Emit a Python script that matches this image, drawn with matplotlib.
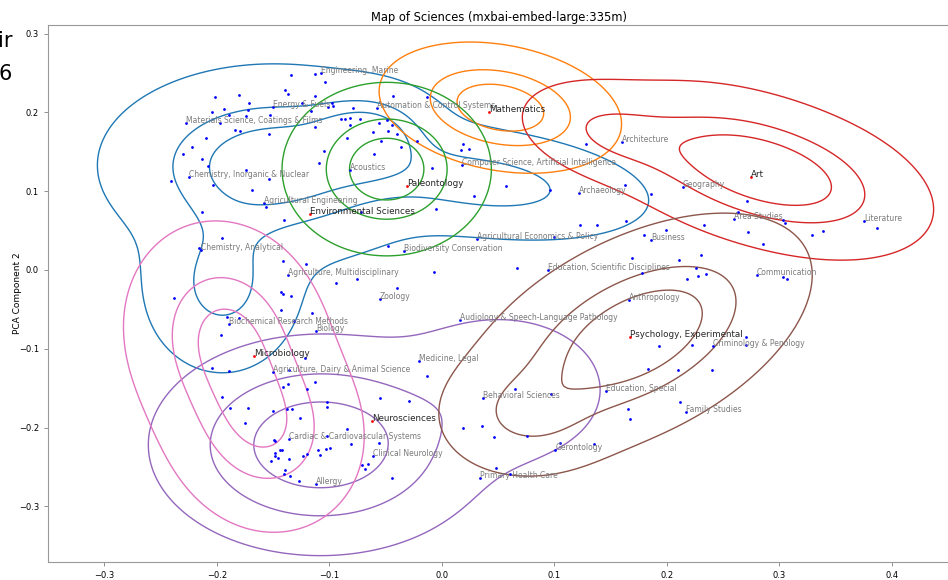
import numpy as np
import matplotlib
matplotlib.use('Agg')
import matplotlib.pyplot as plt

# labelled categories (grey text, blue dot)
lab_names = ['Engineering, Marine', 'Energy & Fuels', 'Materials Science, Coatings & Films',
             'Chemistry, Inorganic & Nuclear', 'Automation & Control Systems',
             'Computer Science, Artificial Intelligence', 'Acoustics', 'Archaeology',
             'Architecture', 'Geography', 'Agricultural Engineering',
             'Chemistry, Analytical', 'Agriculture, Multidisciplinary', 'Biodiversity Conservation',
             'Agricultural Economics & Policy', 'Education, Scientific Disciplines', 'Zoology',
             'Audiology & Speech-Language Pathology', 'Biochemical Research Methods', 'Biology',
             'Agriculture, Dairy & Animal Science', 'Medicine, Legal', 'Area Studies',
             'Business', 'Literature', 'Communication', 'Anthropology',
             'Criminology & Penology', 'Cardiac & Cardiovascular Systems',
             'Clinical Neurology', 'Allergy', 'Behavioral Sciences', 'Education, Special',
             'Gerontology', 'Primary Health Care', 'Family Studies']
lab_x = [-0.107, -0.150, -0.227, -0.225, -0.058, 0.018, -0.082, 0.122,
         0.160, 0.214, -0.158, -0.214, -0.137, -0.034, 0.031, 0.094,
         -0.055, 0.016, -0.189, -0.112, -0.150, -0.020, 0.260, 0.186, 0.375,
         0.280, 0.166, 0.241, -0.136, -0.061, -0.112, 0.037, 0.146,
         0.101, 0.034, 0.217]
lab_y = [0.250, 0.207, 0.186, 0.118, 0.205, 0.133, 0.127, 0.098,
         0.163, 0.105, 0.085, 0.025, -0.007, 0.024, 0.039, -0.000,
         -0.037, -0.063, -0.068, -0.077, -0.129, -0.115, 0.065, 0.038, 0.062,
         -0.007, -0.038, -0.096, -0.215, -0.236, -0.272, -0.162, -0.154,
         -0.228, -0.264, -0.180]

# representative category of each field (black text, red dot)
rep_names = ['Environmental Sciences', 'Mathematics', 'Paleontology', 'Art',
             'Neurosciences', 'Psychology, Experimental', 'Microbiology']
rep_x = [-0.117, 0.042, -0.031, 0.275, -0.062, 0.167, -0.167]
rep_y = [0.071, 0.200, 0.107, 0.118, -0.192, -0.085, -0.109]
rep_colors = ['#1f77b4', '#ff7f0e', '#2ca02c', '#d62728', '#9467bd', '#8c564b', '#e377c2']

# unlabelled categories
pt_x = [-0.134, -0.113, -0.104, -0.202, -0.180, -0.139, -0.137, -0.113, -0.171, -0.172,
        -0.204, -0.194, -0.189, -0.174, -0.153, -0.116, -0.197, -0.184, -0.179, -0.154,
        -0.113, -0.210, -0.222, -0.230, -0.213, -0.208, -0.109, -0.174, -0.154, -0.241,
        -0.203, -0.169, -0.124, -0.101, -0.098, -0.097, -0.079, -0.043, -0.013, -0.090,
        -0.086, -0.082, -0.073, -0.082, -0.056, -0.049, -0.044, -0.061, -0.048, -0.040,
        -0.084, -0.054, -0.036, -0.022, -0.105, -0.060, -0.009, 0.019, 0.017, 0.024,
        0.128, 0.057, 0.096, 0.029, 0.163, 0.186, -0.156, -0.213, -0.140, -0.195,
        -0.216, -0.141, -0.121, -0.238, -0.143, -0.141, -0.134, -0.143, -0.115, -0.191,
        -0.180, -0.131, -0.196, -0.122, -0.204, -0.189, -0.136, -0.005, -0.072, 0.123,
        0.138, 0.100, -0.048, 0.067, -0.007, -0.094, -0.075, -0.040, -0.013, 0.271,
        0.263, 0.303, 0.305, 0.233, 0.164, 0.199, 0.180, 0.272, 0.285, 0.329,
        0.339, 0.387, 0.169, 0.211, 0.230, 0.226, 0.178, 0.235, 0.228, 0.218,
        0.303, 0.307, 0.270, 0.193, 0.222, 0.270, 0.183, 0.210, 0.240, -0.141,
        -0.137, -0.113, -0.120, -0.195, -0.188, -0.172, -0.150, -0.138, -0.133, -0.175,
        -0.126, -0.149, -0.148, -0.110, -0.148, -0.144, -0.142, -0.120, -0.123, -0.152,
        -0.148, -0.146, -0.136, -0.139, -0.140, -0.135, -0.127, -0.102, -0.102, -0.055,
        -0.029, -0.084, -0.102, -0.081, -0.056, -0.099, -0.103, -0.108, -0.071, -0.066,
        -0.068, -0.044, 0.065, 0.097, 0.019, 0.036, 0.046, 0.076, 0.105, 0.135,
        0.048, 0.061, 0.212, 0.165, 0.167]
pt_y = [0.247, 0.249, 0.238, 0.220, 0.222, 0.228, 0.223, 0.221, 0.212, 0.203,
        0.201, 0.204, 0.197, 0.195, 0.197, 0.202, 0.187, 0.178, 0.176, 0.173,
        0.181, 0.167, 0.156, 0.147, 0.141, 0.132, 0.136, 0.127, 0.116, 0.113,
        0.108, 0.102, 0.212, 0.207, 0.212, 0.208, 0.205, 0.221, 0.220, 0.191,
        0.192, 0.193, 0.191, 0.184, 0.186, 0.190, 0.184, 0.175, 0.177, 0.173,
        0.167, 0.164, 0.156, 0.164, 0.151, 0.147, 0.130, 0.160, 0.152, 0.153,
        0.160, 0.107, 0.102, 0.094, 0.108, 0.096, 0.080, 0.073, 0.064, 0.041,
        0.028, 0.012, 0.007, -0.036, -0.028, -0.030, -0.033, -0.051, -0.054, -0.060,
        -0.061, -0.065, -0.082, -0.112, -0.125, -0.128, -0.127, 0.077, 0.074, 0.057,
        0.057, 0.042, 0.030, 0.003, -0.002, -0.017, -0.012, -0.023, -0.135, 0.087,
        0.074, 0.063, 0.060, 0.057, 0.062, 0.051, 0.045, 0.048, 0.033, 0.045,
        0.050, 0.053, 0.015, 0.013, 0.019, 0.003, -0.004, -0.005, -0.008, -0.011,
        -0.009, -0.011, -0.085, -0.097, -0.095, -0.095, -0.126, -0.127, -0.127, -0.148,
        -0.145, -0.142, -0.151, -0.161, -0.175, -0.175, -0.179, -0.177, -0.177, -0.194,
        -0.188, -0.216, -0.217, -0.229, -0.232, -0.229, -0.228, -0.234, -0.236, -0.242,
        -0.236, -0.239, -0.240, -0.254, -0.259, -0.261, -0.268, -0.168, -0.174, -0.163,
        -0.166, -0.202, -0.211, -0.221, -0.220, -0.226, -0.227, -0.235, -0.247, -0.246,
        -0.253, -0.264, -0.151, -0.157, -0.201, -0.198, -0.212, -0.211, -0.219, -0.221,
        -0.251, -0.259, -0.167, -0.177, -0.189]

# density of each field's documents, read off the contours as gaussian parts:
# centre x, centre y, sd x, sd y, correlation, weight
env_parts = [(-0.150, 0.133, 0.068, 0.056, 0.0, 0.55),
             (-0.195, -0.020, 0.035, 0.055, 0.0, 0.15),
             (0.040, 0.110, 0.070, 0.035, -0.3, 0.20),
             (-0.065, 0.170, 0.030, 0.030, 0.0, 0.10)]
math_parts = [(0.052, 0.206, 0.044, 0.034, -0.25, 1.0)]
paleo_parts = [(-0.049, 0.128, 0.038, 0.045, 0.0, 1.0)]
art_parts = [(0.255, 0.140, 0.055, 0.045, -0.35, 0.45),
             (0.320, 0.110, 0.055, 0.045, -0.35, 0.40),
             (0.150, 0.175, 0.040, 0.032, -0.3, 0.15)]
neuro_parts = [(-0.108, -0.222, 0.062, 0.057, 0.0, 0.86),
               (0.052, -0.152, 0.050, 0.050, 0.0, 0.14)]
psych_parts = [(0.172, -0.085, 0.066, 0.066, 0.5, 0.9),
               (0.075, -0.185, 0.035, 0.035, 0.0, 0.1)]
micro_parts = [(-0.192, -0.085, 0.040, 0.065, -0.1, 0.55),
               (-0.158, -0.200, 0.040, 0.060, -0.1, 0.45)]
field_parts = [env_parts, math_parts, paleo_parts, art_parts,
               neuro_parts, psych_parts, micro_parts]
mass_levels = [0.05, 0.367, 0.683]

gx = np.linspace(-0.7, 0.8, 500)
gy = np.linspace(-0.7, 0.7, 500)
X, Y = np.meshgrid(gx, gy)


def density(parts):
    Z = np.zeros_like(X)
    for cx, cy, sx, sy, r, w in parts:
        dx = (X - cx) / sx
        dy = (Y - cy) / sy
        q = (dx ** 2 - 2 * r * dx * dy + dy ** 2) / (1 - r ** 2)
        Z += w * np.exp(-q / 2) / (2 * np.pi * sx * sy * np.sqrt(1 - r ** 2))
    return Z


def iso_levels(Z, props):
    z = np.sort(Z.ravel())
    c = np.cumsum(z)
    c /= c[-1]
    return [z[np.searchsorted(c, p)] for p in props]


fig = plt.figure(figsize=(9.48, 5.8), dpi=100)
ax = fig.add_axes([48 / 948, 18 / 580, 902 / 948, 537 / 580])

for parts, col in zip(field_parts, rep_colors):
    Z = density(parts)
    ax.contour(X, Y, Z, levels=iso_levels(Z, mass_levels), colors=[col], linewidths=1.0)

ax.scatter(pt_x + lab_x, pt_y + lab_y, s=4, color='blue', linewidths=0, zorder=3)
ax.scatter(rep_x, rep_y, s=4, color='red', linewidths=0, zorder=4)

for name, x, y in zip(lab_names, lab_x, lab_y):
    ax.text(x, y, name, fontsize=5.5, color='0.48', zorder=5)
for name, x, y in zip(rep_names, rep_x, rep_y):
    ax.text(x, y, name, fontsize=6.3, color='0.15', zorder=5)

ax.set_xlim(-0.350, 0.4516)
ax.set_ylim(-0.3706, 0.3109)
ax.set_title('Map of Sciences (mxbai-embed-large:335m)', fontsize=8.3, pad=3)
ax.set_xlabel('PCA component 1', fontsize=6.5)
ax.set_ylabel('PCA Component 2', fontsize=6.5, labelpad=-2)
ax.tick_params(labelsize=6, length=3, width=0.6, color='0.5')
for s in ax.spines.values():
    s.set_color('0.6')
    s.set_linewidth(0.8)

# fragments of neighbouring text cut off at the left edge
fig.text(12 / 948, 1 - 47 / 580, 'ir', fontsize=15, ha='right', va='baseline')
fig.text(12 / 948, 1 - 80 / 580, '6', fontsize=15, ha='right', va='baseline')

fig.savefig('out.png', dpi=100)
